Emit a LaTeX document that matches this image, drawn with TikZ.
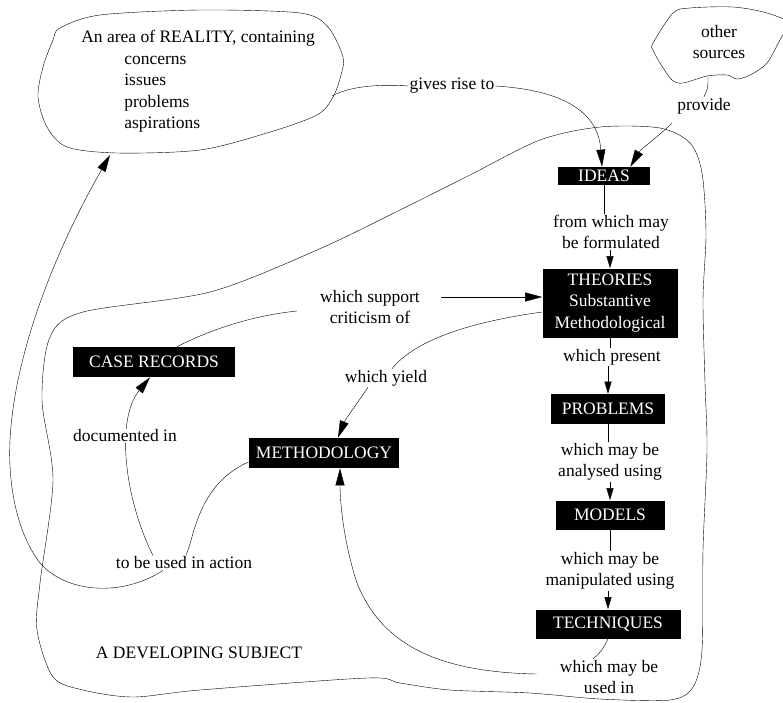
\documentclass[tikz,border=0pt]{standalone}
\usepackage{fontspec}
\setmainfont{Liberation Serif}
\usetikzlibrary{arrows.meta,backgrounds}
\tikzset{
	box/.style={fill=black,text=white,inner sep=0pt,align=center},
	lbl/.style={fill=white,inner sep=1pt,align=center},
	sm/.style={-{Triangle[length=12pt,width=7pt]}},
}
\begin{document}
\begin{tikzpicture}[x=1pt,y=-1pt,line join=round,line cap=round,line width=0.7pt,>={Triangle[length=17pt,width=9pt]},font=\fontsize{17.5}{21.5}\selectfont]
	\useasboundingbox (0,0) rectangle (783,702);
	% black boxes
	\node[box,minimum width=92pt,minimum height=18pt] (ideas) at (604,176) {IDEAS};
	\node[box,minimum width=135pt,minimum height=69pt] (theo) at (610,303) {THEORIES\\Substantive\\Methodological};
	\node[box,minimum width=114pt,minimum height=30pt] (prob) at (608,409) {PROBLEMS};
	\node[box,minimum width=109pt,minimum height=29pt] (mod) at (610,515) {MODELS};
	\node[box,minimum width=145pt,minimum height=29pt] (tech) at (608,624) {TECHNIQUES};
	\node[box,minimum width=162pt,minimum height=30pt] (case) at (154,362) {CASE RECORDS};
	\node[box,minimum width=150pt,minimum height=30pt] (meth) at (324,453) {METHODOLOGY};
	% labels
	\node[anchor=north west,align=left,inner sep=0pt] (real) at (81,30) {An area of REALITY, containing\\\hspace*{43pt}concerns\\\hspace*{43pt}issues\\\hspace*{43pt}problems\\\hspace*{43pt}aspirations};
	\node[lbl] (other) at (719,42) {other\\sources};
	\node[lbl] (rise) at (452,86) {gives rise to};
	\node[lbl] (prov) at (704,106) {provide};
	\node[lbl] (form) at (611,232) {from which may\\be formulated};
	\node[lbl] (pres) at (612,357) {which present};
	\node[lbl] (an) at (610,462) {which may be\\analysed using};
	\node[lbl] (man) at (610,571) {which may be\\manipulated using};
	\node[align=center,inner sep=1pt] (used) at (609,677) {which may be\\used in};
	\node[lbl] (sup) at (370,307) {which support\\criticism of};
	\node[lbl] (yld) at (386,378) {which yield};
	\node[lbl] (doc) at (125,436) {documented in};
	\node[lbl] (act) at (184,563) {to be used in action};
	\node (dev) at (199,653) {A DEVELOPING SUBJECT};
	\coordinate (r1) at (332,96);
	\coordinate (r2) at (110,155);
	\coordinate (o1) at (708,77);
	\begin{pgfonlayer}{background}
	% clouds
	\draw plot[smooth cycle] coordinates {(60,28) (100,15) (200,10) (300,13) (328,27) (343,57) (341,75) (333,97) (317,115) (267,133) (200,150) (117,153) (67,147) (47,127) (38,97) (43,67) (53,40)};
	\draw plot[smooth cycle] coordinates {(653,43) (673,13) (690,8) (733,7) (767,13) (795,25) (783,35) (767,63) (750,75) (737,79) (727,75) (707,76) (683,83) (672,80) (660,63) (653,50)};
	\draw plot[smooth cycle] coordinates {(317,250) (400,210) (470,175) (540,140) (600,127) (660,128) (690,143) (702,173) (706,233) (703,300) (705,383) (707,450) (703,550) (702,650) (693,687) (670,700) (600,699) (530,693) (450,690) (400,683) (367,678) (200,690) (133,697) (83,690) (53,677) (37,630) (40,583) (53,480) (42,400) (50,337) (83,312) (210,292)};
	% connectors
	\draw (r1) .. controls (350,86) and (380,84) .. (rise.west);
	\draw[->] (rise.east) .. controls (560,90) and (598,110) .. ([xshift=-2pt]ideas.north);
	\draw (o1) .. controls (708,88) .. (prov.north);
	\draw[->] ([shift={(-4pt,-8pt)}]prov.south west) .. controls (660,135) and (640,150) .. ([xshift=-20pt]ideas.north east);
	\draw (ideas.south) -- (ideas.south |- form.north);
	\draw[sm] (form.south -| theo.north) -- (theo.north);
	\draw (theo.south) -- (theo.south |- pres.north);
	\draw[sm] (pres.south -| prob.north) -- (prob.north);
	\draw (prob.south) -- (prob.south |- an.north);
	\draw[sm] (an.south -| mod.north) -- (mod.north);
	\draw (mod.south) -- (mod.south |- man.north);
	\draw[sm] (man.south -| tech.north) -- (tech.north);
	\draw (tech.south) .. controls (603,650) and (598,655) .. ([xshift=-16pt]used.north);
	\draw[->] ([shift={(-22pt,3pt)}]used.west) .. controls (430,672) and (380,640) .. (357,583) .. controls (343,540) and (340,500) .. ([xshift=16pt]meth.south);
	\draw[->] ([shift={(20pt,10pt)}]sup.east) -- ([yshift=6pt]theo.west);
	\draw ([xshift=23pt]case.north) .. controls (210,330) and (250,316) .. ([shift={(-22pt,-4pt)}]sup.west);
	\draw ([yshift=-9pt]theo.west) .. controls (470,322) and (415,340) .. ([xshift=6pt]yld.north);
	\draw[->] ([xshift=-18pt]yld.south) .. controls (358,402) and (345,420) .. ([xshift=14pt]meth.north);
	\draw[->] ([xshift=-31pt]act.north) .. controls (125,500) and (115,420) .. ([xshift=-4pt]case.south);
	\draw ([yshift=-9pt]meth.west) .. controls (212,478) and (200,510) .. (193,533) .. controls (190,545) and (188,550) .. ([xshift=2pt]act.north);
	\draw[->] ([xshift=-21pt]act.south) .. controls (120,598) and (65,592) .. (40,563) .. controls (15,530) and (8,480) .. (10,440) .. controls (14,360) and (50,260) .. (r2);
	\end{pgfonlayer}
\end{tikzpicture}
\end{document}
